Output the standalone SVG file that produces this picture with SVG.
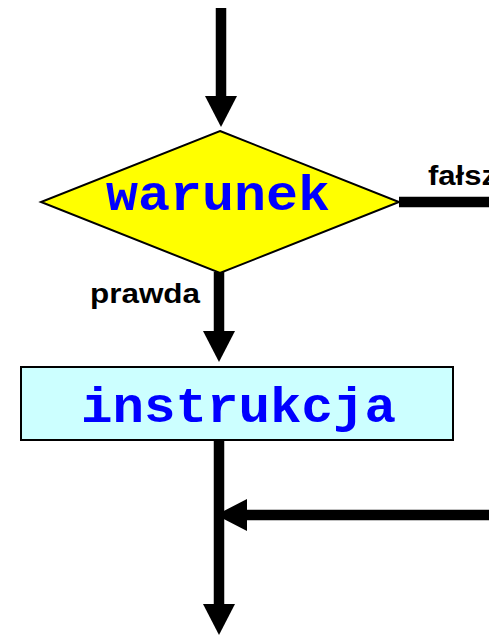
<svg xmlns="http://www.w3.org/2000/svg" width="489" height="635" viewBox="0 0 489 635">
<style>
.conn{stroke:#000;stroke-width:10.5;fill:none}
.code{font-family:"Liberation Mono","Courier New",monospace;font-weight:bold;fill:#0000ff}
.lbl{font-family:"Liberation Sans",Arial,sans-serif;font-weight:bold;fill:#000;font-size:28px}
</style>
<defs>
<marker id="ah" viewBox="0 0 31 32" refX="0" refY="16" markerWidth="31" markerHeight="32" markerUnits="userSpaceOnUse" orient="auto">
<path d="M0,0 L31,16 L0,32 z" fill="#000"/>
</marker>
</defs>
<rect width="489" height="635" fill="#fff"/>
<g id="connectors">
<line class="conn" x1="221" y1="8" x2="221" y2="96" marker-end="url(#ah)"/>
<line class="conn" x1="219" y1="272" x2="219" y2="331" marker-end="url(#ah)"/>
<line class="conn" x1="399" y1="202" x2="489" y2="202"/>
<line class="conn" x1="219" y1="440" x2="219" y2="604" marker-end="url(#ah)"/>
<line class="conn" x1="489" y1="515" x2="247" y2="515" marker-end="url(#ah)"/>
<text class="lbl" x="428" y="185" textLength="69" lengthAdjust="spacingAndGlyphs">fałsz</text>
<text class="lbl" x="90" y="303" textLength="110" lengthAdjust="spacingAndGlyphs">prawda</text>
</g>
<g id="warunek">
<polygon points="220,131 399,202 220,273 41,202" fill="#ffff00" stroke="#000" stroke-width="2"/>
<text class="code" x="106" y="210" font-size="50" textLength="224" lengthAdjust="spacingAndGlyphs">warunek</text>
</g>
<g id="instrukcja">
<rect x="21" y="367" width="432" height="73" fill="#ccffff" stroke="#000" stroke-width="2"/>
<text class="code" x="81" y="422" font-size="50" textLength="315" lengthAdjust="spacingAndGlyphs">instrukcja</text>
</g>
</svg>
